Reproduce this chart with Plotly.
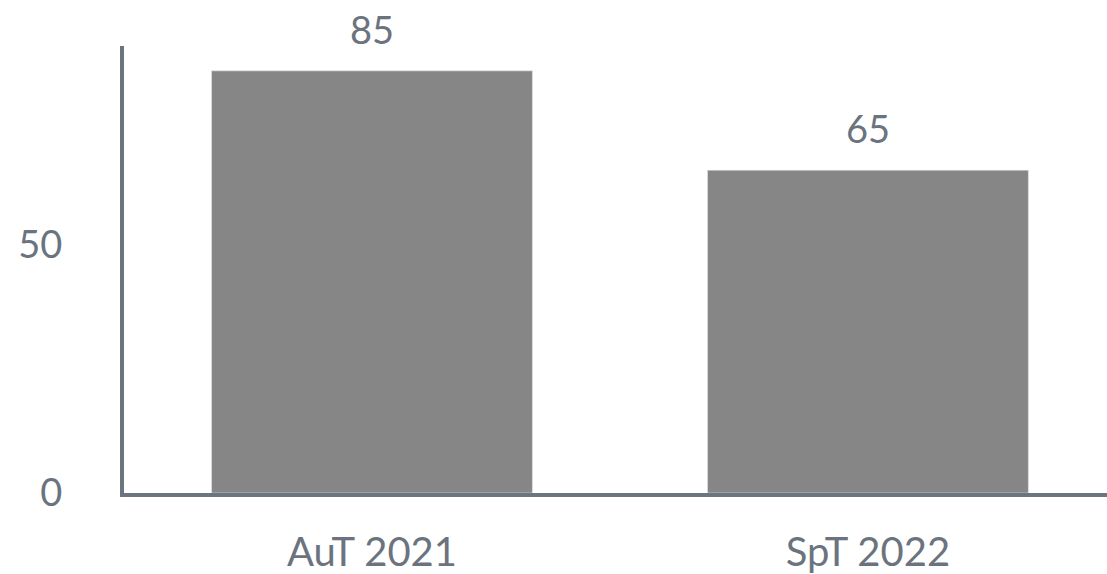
import plotly.graph_objects as go

terms = ["AuT 2021", "SpT 2022"]
values = [85, 65]
y_ticks = [0, 50]

grey_text = "#6b747e"
axis_col = "#6b7580"

fig = go.Figure(go.Bar(
    x=terms, y=values,
    marker_color="#868686", width=0.647,
))

# value labels above the bars
for t, v in zip(terms, values):
    fig.add_annotation(x=t, y=v, text=str(v), showarrow=False,
                       yanchor="bottom", yshift=17,
                       font=dict(family="Lato", size=38, color=grey_text))

fig.update_layout(
    width=1107, height=574,
    margin=dict(l=124, r=0, t=46, b=81),
    plot_bgcolor="white", paper_bgcolor="white",
    font=dict(family="Lato", size=40, color=grey_text),
    showlegend=False,
)
fig.update_xaxes(range=[-0.5, 1.482], showline=True, linewidth=4, linecolor=axis_col,
                 ticks="", ticklabelstandoff=21, showgrid=False)
fig.update_yaxes(range=[0, 90], tickvals=y_ticks, showline=True, linewidth=4,
                 linecolor=axis_col, ticks="", ticklabelstandoff=50,
                 tickfont=dict(size=38), showgrid=False, zeroline=False)

# drop the default body margin so the figure fills the window
fig.write_html("out.html", config={"displayModeBar": False},
               post_script="document.body.style.margin='0';")
